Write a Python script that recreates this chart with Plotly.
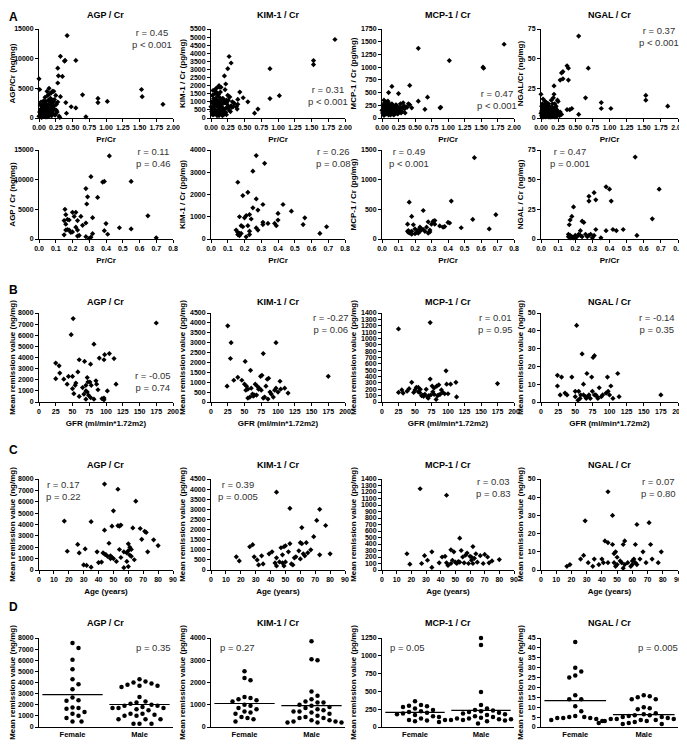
import numpy as np
import plotly.graph_objects as go

W, H = 687, 750
FONT = "Liberation Sans"

# ---------------- DATA ----------------
# Row A (top): all samples, Pr/Cr vs biomarker/Cr  (x, y)
A_AGP_OUT = [(0.42,13900),(0.32,10400),(0.38,9600),(0.39,9700),(0.55,9700),(0.28,8400),(0.29,7100),
             (0.35,7000),(0.28,5900),(0.00,6600),(1.53,4800),(1.54,3600),(1.85,2300),(1.02,2800),
             (0.88,3300),(0.88,2600),(0.65,3900),(0.55,1700),(0.48,1900),(0.70,200),(0.40,2600),(0.41,800)]
A_AGP_CL = [(0.01,4800),(0.02,2300),(0.03,1500),(0.04,900),(0.05,600),(0.06,300),(0.07,1200),(0.08,2000),
            (0.09,3500),(0.10,2800),(0.11,1800),(0.12,4500),(0.13,3800),(0.14,1000),(0.15,5000),(0.16,4100),
            (0.17,3300),(0.18,3200),(0.19,2500),(0.20,4500),(0.21,3000),(0.22,4500),(0.23,3100),(0.24,600),
            (0.25,3800),(0.26,2300),(0.27,1000),(0.30,300),(0.31,100),(0.32,3600),(0.02,500),(0.03,200),
            (0.04,100),(0.05,1800),(0.06,2500),(0.07,500),(0.08,300),(0.09,800),(0.10,1100),(0.11,600),
            (0.12,200),(0.13,1400),(0.14,2200),(0.15,700),(0.16,1600),(0.17,1500),(0.18,900),(0.19,400),
            (0.20,1200),(0.21,1900),(0.22,2700),(0.23,1500),(0.24,500),(0.01,1000),(0.02,1300),(0.03,700),
            (0.04,2000),(0.05,1200),(0.06,800),(0.07,1700),(0.08,1000),(0.09,400),(0.10,200),(0.11,2400),
            (0.12,900),(0.13,600),(0.14,300),(0.15,1300),(0.16,2800),(0.17,600),(0.18,2100),(0.19,1100),
            (0.00,300),(0.01,200),(0.02,900),(0.03,2700),(0.04,1600),(0.05,400),(0.06,1400),(0.07,2900),
            (0.08,1500),(0.09,2200),(0.10,500),(0.12,1600),(0.14,3000),(0.16,400),(0.18,4200),(0.20,800),
            (0.22,2000),(0.28,2700),(0.26,1300),(0.05,900),(0.08,700),(0.11,1300),(0.13,1000),(0.09,1200),
            (0.06,1100),(0.10,1500),(0.12,1100),(0.07,800),(0.14,1500),(0.04,1300),(0.03,1000)]

A_KIM_OUT = [(1.85,4850),(1.53,3550),(1.53,3300),(0.88,3050),(0.88,1200),(1.02,1380),(0.27,3800),(0.30,3400),
             (0.25,3050),(0.20,2600),(0.65,300),(0.70,550),(0.55,1000),(0.48,1250),(0.43,1600),(0.40,1150),
             (0.22,2100),(0.12,2000)]
A_KIM_CL = [(0.01,1000),(0.02,600),(0.03,300),(0.04,1200),(0.05,800),(0.06,1500),(0.07,400),(0.08,1100),
            (0.09,700),(0.10,1900),(0.11,500),(0.12,1300),(0.13,900),(0.14,1600),(0.15,350),(0.16,1000),
            (0.17,650),(0.18,1200),(0.19,550),(0.20,950),(0.21,1050),(0.22,600),(0.23,1100),(0.24,850),
            (0.25,1400),(0.26,700),(0.27,500),(0.28,1300),(0.30,750),(0.31,650),(0.33,700),(0.35,900),
            (0.38,700),(0.40,850),(0.39,550),(0.01,400),(0.02,1400),(0.03,900),(0.04,200),(0.05,1700),
            (0.06,500),(0.07,1000),(0.08,250),(0.09,1300),(0.10,400),(0.11,1000),(0.12,700),(0.13,300),
            (0.14,1150),(0.15,1900),(0.16,250),(0.17,150),(0.18,450),(0.19,1000),(0.20,300),(0.21,1750),
            (0.22,350),(0.23,200),(0.03,1700),(0.05,1100),(0.07,1800),(0.09,150),(0.11,1450),(0.13,1900),
            (0.15,800),(0.17,1200),(0.19,200),(0.00,700),(0.02,200),(0.04,600),(0.06,1000),(0.08,1600),
            (0.10,1000),(0.12,150),(0.14,500),(0.16,600),(0.18,900),(0.24,1000),(0.26,1100),(0.29,400),
            (0.32,1000),(0.05,500),(0.08,800),(0.11,750),(0.03,600)]

A_MCP_OUT = [(0.55,1370),(1.02,1130),(1.53,1000),(1.54,980),(1.85,1450),(0.42,640),(0.15,620),(0.25,480),
             (0.10,500),(0.69,410),(0.55,330),(0.65,170),(0.88,200),(0.89,210)]
A_MCP_CL = [(0.01,100),(0.02,200),(0.03,50),(0.04,150),(0.05,250),(0.06,120),(0.07,80),(0.08,300),
            (0.09,170),(0.10,90),(0.11,220),(0.12,140),(0.13,60),(0.14,190),(0.15,280),(0.16,110),
            (0.17,160),(0.18,230),(0.19,100),(0.20,180),(0.21,130),(0.22,250),(0.23,90),(0.24,170),
            (0.25,120),(0.26,210),(0.27,150),(0.28,280),(0.29,100),(0.30,200),(0.32,300),(0.34,180),
            (0.36,220),(0.38,210),(0.40,280),(0.42,260),(0.45,200),(0.01,250),(0.02,80),(0.03,180),
            (0.04,300),(0.05,110),(0.06,200),(0.07,160),(0.08,130),(0.09,240),(0.10,60),(0.11,140),
            (0.12,270),(0.13,200),(0.14,90),(0.15,150),(0.16,240),(0.17,70),(0.18,120),(0.19,200),
            (0.20,90),(0.21,260),(0.22,110),(0.23,190),(0.24,80),(0.00,150),(0.02,130),(0.04,70),
            (0.06,320),(0.08,210),(0.10,260),(0.12,100),(0.14,230),(0.16,180),(0.18,60),(0.20,140),
            (0.22,170),(0.26,140),(0.28,190),(0.30,130),(0.33,240),(0.35,100),(0.03,350),(0.05,180),
            (0.09,330)]

A_NGAL_OUT = [(0.55,69),(0.38,44),(0.40,42),(0.69,42),(0.30,38),(0.32,39),(0.28,32),(0.32,33),(0.40,32),
              (0.19,27),(0.65,17),(0.88,13),(0.88,8),(1.02,8),(1.53,19),(1.53,15),(1.85,10),(0.55,3),
              (0.45,8),(0.42,7),(0.38,7),(0.00,20),(0.24,15),(0.25,14)]
A_NGAL_CL = [(0.01,2),(0.02,5),(0.03,8),(0.04,1),(0.05,11),(0.06,3),(0.07,6),(0.08,13),(0.09,2),(0.10,7),
             (0.11,4),(0.12,10),(0.13,1),(0.14,5),(0.15,15),(0.16,3),(0.17,12),(0.18,2),(0.19,6),(0.20,4),
             (0.21,9),(0.22,1),(0.23,7),(0.24,3),(0.25,4),(0.26,4),(0.27,2),(0.28,5),(0.30,3),(0.01,6),
             (0.02,1),(0.03,3),(0.04,9),(0.05,4),(0.06,14),(0.07,1),(0.08,5),(0.09,10),(0.10,2),(0.11,12),
             (0.12,3),(0.13,8),(0.14,1),(0.15,4),(0.16,9),(0.17,2),(0.18,17),(0.19,3),(0.20,1),(0.21,5),
             (0.22,10),(0.00,4),(0.02,12),(0.04,5),(0.06,8),(0.08,2),(0.10,11),(0.12,6),(0.14,9),(0.16,1),
             (0.18,8),(0.20,12),(0.24,6),(0.03,16),(0.07,10),(0.11,1),(0.15,7),(0.19,20),(0.23,2),(0.05,7),
             (0.09,5),(0.13,4),(0.17,6),(0.01,10),(0.02,3),(0.06,5)]

# Row A (bottom): remission subset, Pr/Cr vs biomarker/Cr
R_AGP = [(0.42,14000),(0.31,10500),(0.38,9600),(0.39,9700),(0.55,9700),(0.28,8500),(0.29,7100),(0.35,7000),
         (0.285,5900),(0.155,5000),(0.20,4500),(0.22,4500),(0.16,4100),(0.65,3900),(0.25,3800),(0.32,3600),
         (0.17,3300),(0.18,3200),(0.15,3100),(0.23,3100),(0.28,2700),(0.40,2600),(0.16,2500),(0.26,2300),
         (0.22,2000),(0.48,1900),(0.55,1700),(0.17,1600),(0.18,1500),(0.39,1400),(0.23,1500),(0.20,1200),
         (0.32,900),(0.41,800),(0.15,700),(0.24,600),(0.23,500),(0.28,400),(0.31,300),(0.70,200),(0.30,100),
         (0.21,3800),(0.19,1100),(0.16,1500)]
R_KIM = [(0.27,3750),(0.32,3400),(0.25,3050),(0.16,2550),(0.22,2100),(0.19,1950),(0.27,1800),(0.31,1550),
         (0.43,1550),(0.48,1250),(0.25,1400),(0.28,1300),(0.21,1050),(0.23,1100),(0.17,1000),(0.20,950),
         (0.24,900),(0.40,1150),(0.56,950),(0.31,750),(0.34,700),(0.38,700),(0.40,850),(0.39,600),
         (0.55,650),(0.31,650),(0.27,500),(0.28,400),(0.22,600),(0.18,600),(0.19,550),(0.23,350),
         (0.23,200),(0.16,300),(0.17,250),(0.16,200),(0.17,150),(0.18,250),(0.65,250),(0.69,550),
         (0.15,400),(0.21,100)]
R_MCP = [(0.56,1370),(0.165,620),(0.42,640),(0.25,480),(0.69,410),(0.55,330),(0.18,380),(0.65,170),
         (0.48,190),(0.40,280),(0.41,270),(0.38,210),(0.35,220),(0.31,300),(0.30,250),(0.28,290),
         (0.32,310),(0.27,200),(0.26,130),(0.28,100),(0.25,160),(0.23,200),(0.22,150),(0.21,110),
         (0.20,170),(0.19,240),(0.18,130),(0.17,120),(0.16,140),(0.155,250),(0.17,100),(0.16,110),
         (0.18,80),(0.23,130),(0.22,100),(0.24,170),(0.20,90),(0.29,150),(0.29,120),(0.32,250),
         (0.37,200),(0.155,130)]
R_NGAL = [(0.55,69),(0.38,44),(0.40,42),(0.69,42),(0.31,39),(0.28,36),(0.28,32),(0.32,33),(0.41,32),
          (0.19,27),(0.18,19),(0.17,16),(0.24,15),(0.25,14),(0.165,12),(0.65,17),(0.48,8),(0.42,8),
          (0.38,7),(0.44,7),(0.32,8),(0.23,7),(0.56,3),(0.35,1),(0.16,4),(0.17,3),(0.18,2),(0.19,1),
          (0.20,3),(0.21,2),(0.22,4),(0.23,3),(0.26,4),(0.27,2),(0.29,4),(0.28,3),(0.17,1),(0.16,2),
          (0.30,1),(0.31,3),(0.24,2),(0.20,1)]

# Row B: GFR vs mean remission value
B_AGP = [(175,7100),(51,7500),(48,6050),(82,5200),(105,4350),(98,4250),(112,3900),(90,3950),(97,3800),
         (60,3800),(68,3650),(77,3400),(25,3500),(30,3250),(31,2600),(37,2050),(25,2100),(44,2300),(50,2300),
         (58,2700),(72,2200),(55,1700),(54,1500),(65,1300),(70,1500),(73,1800),(76,1800),(78,1500),(85,1900),
         (86,1600),(88,1100),(42,1600),(50,1200),(52,750),(60,500),(67,700),(70,1000),(72,900),(74,600),
         (77,400),(70,250),(82,250),(94,300),(97,200),(102,1000),(115,1600),(97,350)]
B_KIM = [(25,3850),(30,3000),(29,2200),(97,3000),(78,2450),(51,2050),(59,1600),(24,800),(34,1100),
         (40,1250),(46,1100),(50,900),(53,800),(55,650),(52,600),(60,700),(62,400),(65,350),(66,900),
         (69,800),(71,650),(72,700),(74,1300),(76,1350),(82,800),(84,1150),(86,1200),(88,500),(90,400),
         (95,600),(97,700),(100,500),(103,1050),(104,650),(110,700),(115,450),(175,1300),(63,300),(68,350),
         (58,250),(75,600),(80,250),(85,150),(78,200),(93,250),(55,200)]
B_MCP = [(25,1150),(73,1250),(97,490),(73,360),(175,290),(112,310),(45,310),(104,280),(98,280),(86,270),
         (79,220),(76,250),(83,250),(92,150),(95,130),(100,130),(113,80),(25,150),(30,190),(32,140),(38,170),
         (41,210),(50,190),(52,230),(55,160),(57,150),(58,200),(60,100),(63,90),(65,120),(67,200),(69,80),
         (71,100),(74,110),(77,160),(79,120),(82,40),(84,100),(88,120),(90,190),(55,230),(48,150),(62,110),
         (70,60),(86,110)]
B_NGAL = [(52,43),(60,27),(76,25),(78,26),(112,16),(67,16),(24,15),(30,14),(45,14),(74,14),(97,14),
          (102,9),(24,9),(62,10),(85,8),(55,6),(50,6),(35,5),(38,4),(28,4),(58,4),(65,3),(68,3),(70,4),
          (72,2),(75,6),(80,4),(82,3),(88,3),(90,4),(95,5),(98,6),(100,4),(105,2),(114,3),(175,4),(50,3),
          (54,1),(62,4),(66,2),(78,4),(83,2),(57,2)]

# Row C: Age vs mean remission value
C_AGP = [(44,7550),(53,7100),(17,4300),(35,4250),(65,6050),(50,5200),(49,3850),(54,3850),(53,3900),
         (55,3950),(63,3700),(68,3650),(71,3400),(72,3300),(44,3500),(77,2650),(69,2700),(80,2150),
         (60,2300),(61,2000),(62,1800),(60,1700),(59,1500),(61,1300),(62,1200),(64,900),(59,750),
         (57,1600),(54,1800),(26,2250),(19,1650),(27,1500),(31,1850),(39,1600),(43,1500),(44,1400),
         (45,1350),(47,2350),(48,1250),(49,1100),(50,1000),(48,1000),(52,750),(55,1100),(46,1200),
         (40,650),(42,700),(30,450),(32,400),(35,250),(60,300),(57,200),(73,1600)]
C_KIM = [(44,3850),(53,3050),(73,3000),(71,2450),(77,2200),(61,2100),(69,1650),(60,1350),(61,1300),
         (64,1350),(67,1000),(80,800),(73,750),(59,950),(62,800),(63,700),(65,850),(60,550),(26,1150),
         (28,1250),(17,650),(19,450),(29,650),(31,500),(32,250),(35,300),(34,700),(39,800),(41,900),
         (43,350),(44,600),(44,200),(47,1100),(48,750),(49,1150),(50,400),(50,1200),(52,900),(53,1300),
         (54,300),(55,250),(56,600),(57,650),(48,350),(49,200),(46,400)]
C_MCP = [(26,1250),(44,1150),(53,490),(62,360),(34,280),(17,250),(19,90),(27,100),(29,220),(31,150),
         (34,40),(39,110),(41,200),(43,210),(44,110),(45,70),(47,310),(48,150),(49,280),(50,120),(51,100),
         (52,130),(53,120),(54,300),(55,200),(56,110),(58,260),(60,210),(61,200),(61,150),(62,100),
         (63,180),(64,250),(65,120),(67,220),(69,100),(70,240),(72,200),(73,110),(75,140),(80,160),
         (59,100),(57,230),(47,100)]
C_NGAL = [(44,43),(29,27),(47,30),(63,25),(71,26),(42,16),(44,15),(47,14),(55,16),(54,14),(62,14),(72,14),
          (67,10),(79,10),(48,9),(49,10),(50,7),(26,6),(28,8),(35,6),(40,6),(41,4),(44,4),(48,4),(50,3),
          (52,5),(53,4),(55,3),(57,4),(60,5),(60,3),(61,6),(62,4),(63,3),(65,6),(69,4),(73,6),(77,4),
          (17,2),(19,3),(31,4),(34,2),(38,3),(49,2),(54,1),(59,2)]

# Row D: sex groups
SEX = ["Female", "Male"]
D_AGP_F = [7550,7100,6050,5200,4300,3850,3400,2650,2400,2350,1750,1700,1650,1350,1200,1000,800,500,500]
D_AGP_M = [4300,4100,4000,3900,3800,3700,3600,3700,2700,2300,2200,2100,2000,1900,1900,1800,1700,1700,
           1700,1600,1500,1200,1200,1100,1000,1000,700,700,700,300,300,300]
D_KIM_F = [2500,2200,2100,1350,1300,1250,1200,1150,1000,950,800,850,700,650,600,450,400,250,350]
D_KIM_M = [3850,3050,3000,1600,1400,1250,1150,1100,1100,1000,950,900,850,800,750,700,700,650,600,500,
           450,400,400,300,300,250,250,200,200,200]
D_MCP_F = [360,310,300,290,280,260,240,220,210,200,190,180,170,150,140,120,100,90,80]
D_MCP_M = [1250,1150,490,310,260,240,230,220,210,200,190,180,170,150,140,130,120,120,110,110,100,100,
           100,100,90,90,80,70,50]
D_NGAL_F = [43,30,28,26,25,16,14,14,10.5,8,5.5,5,5,4.5,4.5,4.5,4,3.5,3]
D_NGAL_M = [16,15.5,15,14,14,10,9.5,9,7,6.5,6,6,5.5,5,5,4.5,4,4,4,3.5,3.5,3,3,3,2.5,2.5,2,2,1.5,1.5]

TITLES = ["AGP / Cr", "KIM-1 / Cr", "MCP-1 / Cr", "NGAL / Cr"]
STATS_A1 = ["r = 0.45<br>p &lt; 0.001", "r = 0.31<br>p &lt; 0.001", "r = 0.47<br>p &lt; 0.001", "r = 0.37<br>p &lt; 0.001"]
STATS_A2 = ["r = 0.11<br>p = 0.46", "r = 0.26<br>p = 0.08", "r = 0.49<br>p &lt; 0.001", "r = 0.47<br>p = 0.001"]
STATS_B = ["r = -0.05<br>p = 0.74", "r = -0.27<br>p = 0.06", "r = 0.01<br>p = 0.95", "r = -0.14<br>p = 0.35"]
STATS_C = ["r = 0.17<br>p = 0.22", "r = 0.39<br>p = 0.005", "r = 0.03<br>p = 0.83", "r = 0.07<br>p = 0.80"]
STATS_D = ["p = 0.35", "p = 0.27", "p = 0.05", "p = 0.005"]

# ---------------- LAYOUT ----------------
# the page body adds an 8px margin; the figure is sized so that screen pixels map exactly
OFF = 8
FW, FH = W - OFF, H - OFF
COLS = [(39, 173), (211, 345), (382, 514), (541, 678)]
ROWS = [(29, 118), (150, 239), (313, 402), (479, 570), (638, 727)]

def px(x): return (x - OFF) / FW
def py(y): return 1 - (y - OFF) / FH

fig = go.Figure()
layout = dict(width=FW, height=FH, margin=dict(l=0, r=0, t=0, b=0, autoexpand=False),
              paper_bgcolor="white", plot_bgcolor="white",
              font=dict(family=FONT, color="black"), showlegend=False)
annotations = []

TICKF = dict(family=FONT, size=7, color="black", weight="bold")
TITLEF = dict(family=FONT, size=8, color="black", weight="bold")

def note(x, y, text, font, yanchor="middle"):
    annotations.append(dict(x=px(x), y=py(y), xref="paper", yref="paper", text=text, showarrow=False,
                            xanchor="center", yanchor=yanchor, align="center", font=font))

STATF = dict(family=FONT, size=9.5, color="#333")
HEADF = dict(family=FONT, size=9, color="black", weight="bold")

def axis_common():
    return dict(showline=True, linecolor="black", linewidth=1, ticks="outside", ticklen=3,
                tickwidth=1, tickcolor="black", showgrid=False, zeroline=False, tickfont=TICKF,
                automargin=False)

def add_panel(k, row, col, pts_list, xr, xd, xfmt, yr, yd, ytitle, xtitle, stat, stat_xy,
              title=None, title_y=None):
    xa = axis_common(); ya = axis_common()
    xa.update(domain=[px(COLS[col][0]), px(COLS[col][1])], range=xr, dtick=xd, tick0=0,
              tickformat=xfmt, anchor=f"y{k}",
              title=dict(text=xtitle, font=TITLEF, standoff=5))
    ya.update(domain=[py(ROWS[row][1]), py(ROWS[row][0])], range=yr, dtick=yd, tick0=0,
              tickformat="d", anchor=f"x{k}", title=dict(text=ytitle, font=TITLEF, standoff=3))
    layout["xaxis" if k == 1 else f"xaxis{k}"] = xa
    layout["yaxis" if k == 1 else f"yaxis{k}"] = ya
    for pts in pts_list:
        fig.add_trace(go.Scatter(x=[p[0] for p in pts], y=[p[1] for p in pts], mode="markers",
                                 xaxis=f"x{k}", yaxis=f"y{k}", cliponaxis=False,
                                 marker=dict(symbol="diamond", size=4, color="black")))
    note(stat_xy[0], stat_xy[1], stat, STATF)
    if title:
        note((COLS[col][0] + COLS[col][1]) / 2, title_y, title, HEADF)

def swarm_offsets(vals, ppu_y, ppu_x, diam=6.0):
    order = sorted(range(len(vals)), key=lambda i: -vals[i])
    placed = []
    off = [0.0] * len(vals)
    cands = [0.0]
    for j in range(1, 30):
        cands += [j * diam / 2, -j * diam / 2]
    for i in order:
        yp = vals[i] * ppu_y
        for c in cands:
            if all((c - a) ** 2 + (yp - b) ** 2 >= diam ** 2 for a, b in placed):
                placed.append((c, yp)); off[i] = c / ppu_x; break
    return off

k = 0
A_SETS = [(A_AGP_CL, A_AGP_OUT, [0, 15000], 5000, "AGP/Cr (ng/mg)"),
          (A_KIM_CL, A_KIM_OUT, [0, 5500], 500, "KIM-1 / Cr (pg/mg)"),
          (A_MCP_CL, A_MCP_OUT, [0, 1750], 250, "MCP-1 / Cr (pg/mg)"),
          (A_NGAL_CL, A_NGAL_OUT, [0, 75], 25, "NGAL/Cr (ng/mg)")]
A1_POS = [(152, 38), (328, 96), (497, 100), (659, 37)]
for c, (cl, out, yr, yd, yt) in enumerate(A_SETS):
    k += 1
    add_panel(k, 0, c, [cl, out], [0, 2], 0.25, ".2f", yr, yd, yt, "Pr/Cr", STATS_A1[c], A1_POS[c],
              TITLES[c], 15)

R_SETS = [(R_AGP, [0, 15000], 5000, "AGP / Cr (ng/mg)"),
          (R_KIM, [0, 4000], 1000, "KIM-1 / Cr (pg/mg)"),
          (R_MCP, [0, 1500], 500, "MCP-1 / Cr (pg/mg)"),
          (R_NGAL, [0, 75], 25, "NGAL / Cr (ng/mg)")]
A2_POS = [(153, 158), (333, 158), (409, 158), (570, 158)]
for c, (pts, yr, yd, yt) in enumerate(R_SETS):
    k += 1
    add_panel(k, 1, c, [pts], [0, 0.8], 0.1, ".1f", yr, yd, yt, "Pr/Cr", STATS_A2[c], A2_POS[c])

UNITS = ["(ng/mg)", "(pg/mg)", "(pg/mg)", "(ng/mg)"]
B_SETS = [(B_AGP, [0, 8000], 1000), (B_KIM, [0, 4500], 500), (B_MCP, [0, 1400], 100), (B_NGAL, [0, 50], 10)]
B_POS = [(153, 381), (331, 323), (495, 323), (657, 323)]
for c, (pts, yr, yd) in enumerate(B_SETS):
    k += 1
    add_panel(k, 2, c, [pts], [0, 200], 25, "d", yr, yd, "Mean remission value " + UNITS[c],
              "GFR (ml/min*1.72m2)", STATS_B[c], B_POS[c], TITLES[c], 302)

C_SETS = [(C_AGP, [0, 8000], 1000), (C_KIM, [0, 4500], 500), (C_MCP, [0, 1400], 100), (C_NGAL, [0, 50], 10)]
C_POS = [(63, 490), (238, 490), (493, 488), (658, 488)]
for c, (pts, yr, yd) in enumerate(C_SETS):
    k += 1
    add_panel(k, 3, c, [pts], [0, 90], 10, "d", yr, yd, "Mean remission value " + UNITS[c],
              "Age (years)", STATS_C[c], C_POS[c], TITLES[c], 465)

D_SETS = [(D_AGP_F, D_AGP_M, [0, 8000], 1000), (D_KIM_F, D_KIM_M, [0, 4000], 1000),
          (D_MCP_F, D_MCP_M, [0, 1250], 250), (D_NGAL_F, D_NGAL_M, [0, 45], 5)]
D_POS = [(153, 647), (237, 647), (407, 647), (658, 647)]
for c, (f, m, yr, yd) in enumerate(D_SETS):
    k += 1
    xa = axis_common(); ya = axis_common()
    w = COLS[c][1] - COLS[c][0]
    xa.update(domain=[px(COLS[c][0]), px(COLS[c][1])], range=[-0.5, 1.5], tickvals=[0, 1],
              ticktext=SEX, ticks="", anchor=f"y{k}", tickfont=dict(TICKF, size=7.5))
    ya.update(domain=[py(ROWS[4][1]), py(ROWS[4][0])], range=yr, dtick=yd, tick0=0, anchor=f"x{k}",
              tickformat="d", title=dict(text="Mean remission value " + UNITS[c], font=TITLEF, standoff=3))
    layout[f"xaxis{k}"] = xa
    layout[f"yaxis{k}"] = ya
    ppu_y = (ROWS[4][1] - ROWS[4][0]) / (yr[1] - yr[0])
    ppu_x = w / 2.0
    for gi, vals in enumerate([f, m]):
        offs = swarm_offsets(vals, ppu_y, ppu_x)
        fig.add_trace(go.Scatter(x=[gi + o for o in offs], y=vals, mode="markers",
                                 xaxis=f"x{k}", yaxis=f"y{k}", cliponaxis=False,
                                 marker=dict(symbol="circle", size=4.5, color="black")))
        mu = float(np.mean(vals))
        fig.add_trace(go.Scatter(x=[gi - 0.45, gi + 0.45], y=[mu, mu], mode="lines",
                                 xaxis=f"x{k}", yaxis=f"y{k}", line=dict(color="black", width=1.2)))
    note(D_POS[c][0], D_POS[c][1], STATS_D[c], STATF)
    note((COLS[c][0] + COLS[c][1]) / 2, 623, TITLES[c], HEADF)

LETTERF = dict(family=FONT, size=12, color="black", weight="bold")
note(13, 8, "A", LETTERF, yanchor="top")
for lab, yy in [("B", 290), ("C", 450), ("D", 607)]:
    note(13, yy, lab, LETTERF)

layout["annotations"] = annotations
fig.update_layout(**layout)
fig.write_html("out.html")
